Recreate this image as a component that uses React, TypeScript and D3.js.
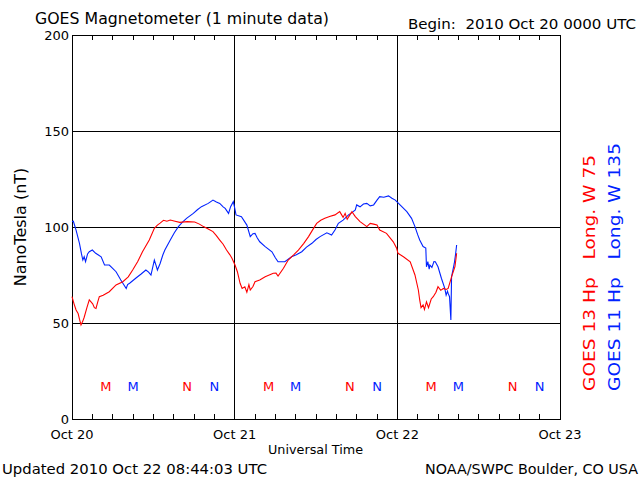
import React from "react";
import * as d3 from "d3";

const yTicks = [0, 50, 100, 150, 200];
const dayLabels = ["Oct 20", "Oct 21", "Oct 22", "Oct 23"];
const dayHours = [0, 24, 48, 72];
const minorHours = d3.range(0, 73, 3);

// hours since 2010 Oct 20 00 UT, nT
const goes13: [number, number][] = [
  [0, 63.7], [0.3, 60], [0.6, 56.8], [0.9, 55], [1.1, 52], [1.33, 49], [1.6, 51], [1.8, 53], [2.2, 58], [2.55, 62],
  [3.05, 60], [3.3, 58], [3.54, 57.6], [3.8, 61], [4.03, 63.7], [4.6, 64.5], [5.5, 66.3], [6.5, 69.8], [7.5, 71.5],
  [8.3, 74], [8.95, 77.6], [9.7, 82], [10.4, 87.1], [11.4, 93.2], [12.15, 99.3], [12.6, 101], [13.0, 102],
  [13.5, 103.5], [14.0, 103], [14.5, 103.6], [15.2, 103], [15.9, 102.4], [17.0, 102.8], [18.1, 102.6],
  [18.8, 101.5], [19.4, 100.2], [20.1, 99], [20.8, 97.6], [21.3, 95.5], [21.8, 93.2], [22.3, 91], [22.8, 88],
  [23.3, 85.5], [23.6, 83.7], [24.05, 80.2], [24.4, 76.7], [24.8, 70.7], [25.1, 68], [25.5, 68.9], [25.8, 66],
  [26.1, 70], [26.3, 67.2], [26.7, 69], [27.0, 71.5], [27.7, 72.4], [28.5, 74.1], [29.7, 75.9], [30.1, 76],
  [30.4, 74.5], [31.2, 78.5], [31.9, 82.8], [32.7, 85.5], [33.4, 88], [34.2, 91.5], [34.9, 95], [35.5, 98.5],
  [36.1, 101.9], [36.7, 103.5], [37.3, 104.5], [38.0, 105.5], [38.8, 106.3], [39.5, 108], [40.0, 105],
  [40.3, 107.1], [40.6, 104], [41.0, 106.3], [41.3, 108], [41.8, 105.4], [42.5, 102.8], [43.0, 101.5],
  [43.5, 100.2], [44.0, 101.9], [44.5, 101.5], [45.0, 101], [45.4, 98.4], [46.4, 96.7], [47.4, 92.3],
  [47.9, 88.9], [48.1, 86.3], [48.9, 84.5], [49.9, 81.9], [50.6, 75], [51.1, 67.2], [51.3, 62], [51.5, 58],
  [51.8, 59.4], [52.0, 57], [52.3, 61], [52.6, 58], [53.0, 62.5], [53.3, 63.7], [53.7, 66], [54.0, 68.9],
  [54.4, 67], [54.8, 68], [55.2, 67.5], [55.5, 68], [56.0, 74], [56.5, 79.3], [56.75, 86.3],
];

const goes11: [number, number][] = [
  [0, 102.8], [0.2, 103], [0.6, 98.4], [1.1, 91.5], [1.4, 86], [1.6, 82.8], [1.8, 84.5], [2.0, 82], [2.3, 86],
  [2.55, 87.1], [3.0, 88], [3.5, 86.3], [4.3, 84.5], [4.8, 80.2], [5.5, 80.2], [6.0, 78.5], [6.5, 76.7],
  [7.2, 72.4], [8.0, 68], [8.2, 70], [8.5, 70.7], [9.4, 73.3], [10.2, 75.5], [10.9, 77.6], [11.3, 76.5],
  [11.65, 75], [12.15, 82.8], [12.4, 80], [12.6, 77.6], [13.0, 81], [13.4, 85.4], [13.7, 88], [14.5, 93.2],
  [15.1, 97], [15.7, 100.2], [16.3, 102.5], [16.9, 104.5], [17.9, 107.1], [18.5, 109], [19.1, 110.6],
  [20.1, 112.3], [20.8, 114], [21.3, 113], [21.8, 112.3], [22.3, 110.5], [22.6, 109.7], [23.1, 107.1],
  [23.4, 110.6], [23.8, 113.2], [24.0, 110], [24.2, 106.3], [25.0, 105.4], [25.8, 101], [26.3, 95],
  [26.7, 96.5], [27.0, 96.7], [27.3, 94.5], [27.7, 92.3], [28.5, 89.8], [29.5, 87.1], [30.0, 84],
  [30.4, 81.9], [31.4, 81.9], [32.4, 84.5], [33.1, 85.5], [33.9, 87.1], [34.6, 89.5], [35.4, 91.5],
  [36.0, 93.5], [36.6, 95], [37.6, 97], [38.3, 95.8], [38.8, 98.4], [39.3, 101.9], [40.0, 103.6],
  [40.8, 106.3], [41.3, 107.5], [41.8, 108.9], [42.0, 111.5], [42.5, 110.5], [43.0, 112], [43.5, 112.3],
  [44.0, 111], [44.5, 111.5], [45.0, 114], [45.4, 115.8], [46.0, 115.5], [46.7, 116.2], [47.2, 115],
  [47.7, 114], [48.4, 111.5], [49.4, 108], [50.1, 104.5], [50.6, 100.2], [51.0, 96], [51.3, 93.2],
  [51.8, 89.8], [52.2, 89], [52.3, 79.3], [52.5, 82], [52.7, 78], [52.8, 80.2], [53.1, 79], [53.4, 82],
  [53.6, 81.9], [54.0, 79.3], [54.5, 73.3], [55.0, 68], [55.2, 64.5], [55.4, 66.5], [55.5, 65.4],
  [55.7, 63.7], [55.9, 51.6], [56.0, 74], [56.4, 81], [56.6, 86], [56.75, 90.6],
];

// Local midnight (M) and noon (N) markers, hours UT within each day
const markers13 = [
  { label: "M", hour: 5 }, { label: "N", hour: 17 },
];
const markers11 = [
  { label: "M", hour: 9 }, { label: "N", hour: 21 },
];
const days = [0, 1, 2];

const RED = "#ff0000";
const BLUE = "#0022ff";
const FONT = "'DejaVu Sans', sans-serif";

export default function App() {
  const left = 72, right = 560, top = 35, bottom = 419;
  const x = d3.scaleLinear().domain([0, 72]).range([left, right]);
  const y = d3.scaleLinear().domain([0, 200]).range([bottom, top]);
  const line = d3.line<[number, number]>().x((d) => x(d[0])).y((d) => y(d[1]));

  return (
    <svg width={640} height={480} style={{ position: "absolute", left: 0, top: 0, background: "#fff" }} fontFamily={FONT}>
      <rect x={0} y={0} width={640} height={480} fill="#fff" />
      <text x={35} y={24} fontSize={15} fill="#000" textLength={294} lengthAdjust="spacingAndGlyphs">GOES Magnetometer (1 minute data)</text>
      <text x={408} y={29} fontSize={14} fill="#000" textLength={228} lengthAdjust="spacingAndGlyphs" style={{ whiteSpace: "pre" }}>Begin:  2010 Oct 20 0000 UTC</text>

      {/* grid */}
      {yTicks.slice(1, -1).map((t) => (
        <line key={"g" + t} x1={left} x2={right} y1={y(t)} y2={y(t)} stroke="#000" strokeWidth={1} shapeRendering="crispEdges" />
      ))}
      {dayHours.slice(1, -1).map((h) => (
        <line key={"v" + h} x1={x(h)} x2={x(h)} y1={top} y2={bottom} stroke="#000" strokeWidth={1} shapeRendering="crispEdges" />
      ))}
      {minorHours.map((h) => (
        <g key={"m" + h}>
          <line x1={x(h)} x2={x(h)} y1={bottom} y2={bottom - 5} stroke="#000" shapeRendering="crispEdges" />
          <line x1={x(h)} x2={x(h)} y1={top} y2={top + 5} stroke="#000" shapeRendering="crispEdges" />
        </g>
      ))}
      <rect x={left} y={top} width={right - left} height={bottom - top} fill="none" stroke="#000" strokeWidth={1} shapeRendering="crispEdges" />

      {yTicks.map((t) => (
        <text key={"yl" + t} x={69} y={y(t) + 5} fontSize={13} textAnchor="end" fill="#000">{t}</text>
      ))}
      {dayHours.map((h, i) => (
        <text key={"xl" + h} x={x(h)} y={439} fontSize={13} textAnchor="middle" fill="#000">{dayLabels[i]}</text>
      ))}
      <text x={268} y={454} fontSize={12} fill="#000" textLength={95} lengthAdjust="spacingAndGlyphs">Universal Time</text>
      <text transform="translate(26,227) rotate(-90)" fontSize={16} textAnchor="middle" fill="#000">NanoTesla (nT)</text>

      {/* data */}
      <path d={line(goes11) || ""} fill="none" stroke={BLUE} strokeWidth={1.1} />
      <path d={line(goes13) || ""} fill="none" stroke={RED} strokeWidth={1.1} />

      {days.map((d) => (
        <g key={"d" + d}>
          {markers13.map((m) => (
            <text key={"r" + m.label} x={x(d * 24 + m.hour)} y={391} fontSize={13} textAnchor="middle" fill={RED}>{m.label}</text>
          ))}
          {markers11.map((m) => (
            <text key={"b" + m.label} x={x(d * 24 + m.hour)} y={391} fontSize={13} textAnchor="middle" fill={BLUE}>{m.label}</text>
          ))}
        </g>
      ))}

      {/* legend */}
      <text transform="translate(595,391) rotate(-90)" fontSize={16} fill={RED} textLength={236} lengthAdjust="spacingAndGlyphs" style={{ whiteSpace: "pre" }}>GOES 13 Hp   Long. W 75</text>
      <text transform="translate(620,391) rotate(-90)" fontSize={16} fill={BLUE} textLength={248} lengthAdjust="spacingAndGlyphs" style={{ whiteSpace: "pre" }}>GOES 11 Hp   Long. W 135</text>

      <text x={2} y={474} fontSize={14} fill="#000" textLength={265} lengthAdjust="spacingAndGlyphs">Updated 2010 Oct 22 08:44:03 UTC</text>
      <text x={425} y={474} fontSize={14} fill="#000" textLength={213} lengthAdjust="spacingAndGlyphs">NOAA/SWPC Boulder, CO USA</text>
    </svg>
  );
}
